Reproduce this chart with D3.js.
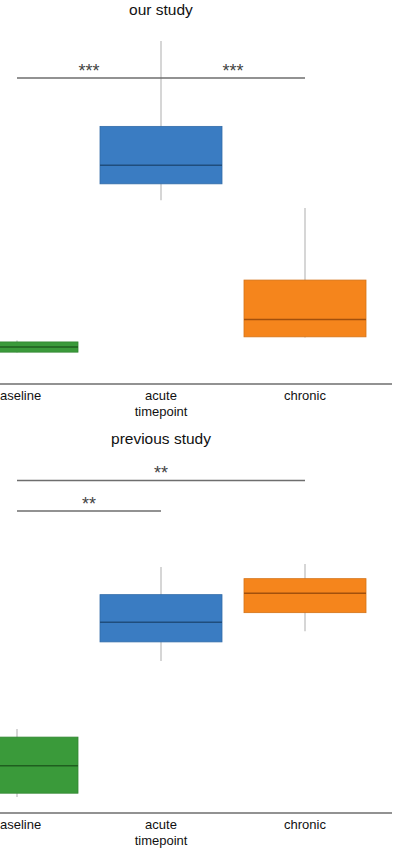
<!DOCTYPE html>
<html>
<head>
<meta charset="utf-8">
<script src="https://cdn.jsdelivr.net/npm/d3@7"></script>
<style>
  body { margin: 0; background: #fff; }
  text { font-family: "Liberation Sans", Arial, sans-serif; }
</style>
</head>
<body>
<div id="chart"></div>
<script>
// categories and their colours
const categories = ['baseline', 'acute\ntimepoint', 'chronic'];
const boxColors = ['#3a9a3a', '#3a7cc2', '#f5851c'];
const medianColors = ['#1f5e1f', '#1f4d7c', '#a2500c'];

// box stats per category: [whiskerLo, q1, median, q3, whiskerHi]
const ourStudy = [
  [2.8, 2.9, 4.4, 5.9, 6.3],
  [47.6, 52.4, 57.9, 69.3, 94.4],
  [7.2, 7.4, 12.5, 24.1, 45.3]
];
const prevStudy = [
  [0.9, 2.0, 10.1, 18.5, 20.9],
  [40.9, 46.5, 52.3, 60.4, 68.5],
  [49.6, 55.1, 60.8, 65.1, 69.4]
];

// significance brackets: [from index, to index, y value, label]
const ourSig = [[0, 1, 83.5, '***'], [1, 2, 83.5, '***']];
const prevSig = [[0, 2, 94.0, '**'], [0, 1, 85.0, '**']];

const width = 395, height = 850;
const boxW = 122;

const svg = d3.select('#chart').append('svg')
  .attr('width', width).attr('height', height);

const x = d3.scalePoint().domain(categories).range([17, 305]);

function drawPanel(title, stats, sigs, top, bottom, axisY, titleY) {
  const y = d3.scaleLinear().domain([0, 100]).range([bottom, top]);
  const g = svg.append('g');

  g.append('text')
    .attr('x', 161).attr('y', titleY)
    .attr('text-anchor', 'middle')
    .style('font-size', '15.5px').attr('fill', '#111')
    .text(title);

  // whiskers
  g.selectAll('line.whisker').data(stats).enter().append('line')
    .attr('class', 'whisker')
    .attr('x1', (d, i) => x(categories[i])).attr('x2', (d, i) => x(categories[i]))
    .attr('y1', d => y(d[0])).attr('y2', d => y(d[4]))
    .attr('stroke', '#c8c8c8').attr('stroke-width', 1.5);

  // boxes
  g.selectAll('rect.box').data(stats).enter().append('rect')
    .attr('class', 'box')
    .attr('x', (d, i) => x(categories[i]) - boxW / 2)
    .attr('width', boxW)
    .attr('y', d => y(d[3]))
    .attr('height', d => y(d[1]) - y(d[3]))
    .attr('fill', (d, i) => boxColors[i])
    .attr('stroke', (d, i) => d3.color(boxColors[i]).darker(0.4))
    .attr('stroke-width', 0.8);

  // medians
  g.selectAll('line.median').data(stats).enter().append('line')
    .attr('class', 'median')
    .attr('x1', (d, i) => x(categories[i]) - boxW / 2)
    .attr('x2', (d, i) => x(categories[i]) + boxW / 2)
    .attr('y1', d => y(d[2])).attr('y2', d => y(d[2]))
    .attr('stroke', (d, i) => medianColors[i]).attr('stroke-width', 1.5);

  // significance brackets
  g.selectAll('line.sig').data(sigs).enter().append('line')
    .attr('class', 'sig')
    .attr('x1', d => x(categories[d[0]])).attr('x2', d => x(categories[d[1]]))
    .attr('y1', d => y(d[2])).attr('y2', d => y(d[2]))
    .attr('stroke', '#6e6e6e').attr('stroke-width', 1.5);

  g.selectAll('text.sig').data(sigs).enter().append('text')
    .attr('class', 'sig')
    .attr('x', d => (x(categories[d[0]]) + x(categories[d[1]])) / 2)
    .attr('y', d => y(d[2]) - 1)
    .attr('text-anchor', 'middle')
    .style('font-size', '18px').attr('fill', '#444')
    .text(d => d[3]);

  // x axis
  g.append('line')
    .attr('x1', 0).attr('x2', 392)
    .attr('y1', axisY).attr('y2', axisY)
    .attr('stroke', '#6e6e6e').attr('stroke-width', 1.5);

  const lab = g.selectAll('text.cat').data(categories).enter().append('text')
    .attr('class', 'cat')
    .attr('x', d => x(d)).attr('y', axisY + 16)
    .attr('text-anchor', 'middle')
    .style('font-size', '13px').attr('fill', '#111');
  lab.each(function (d) {
    d.split('\n').forEach((t, k) => {
      d3.select(this).append('tspan')
        .attr('x', x(d)).attr('dy', k === 0 ? 0 : 15.5)
        .text(t);
    });
  });
}

drawPanel('our study', ourStudy, ourSig, 22, 362, 384, 15);
drawPanel('previous study', prevStudy, prevSig, 460, 800, 813, 444);
</script>
</body>
</html>
